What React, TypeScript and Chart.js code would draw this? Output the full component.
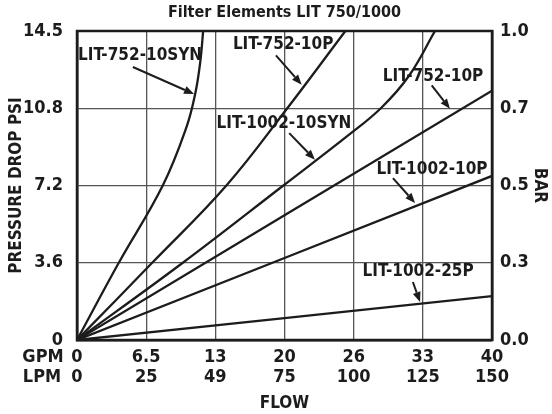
import React, { useEffect, useRef } from "react";
import { Chart, registerables } from "chart.js";

Chart.register(...registerables);

// ---- data ----
const LPM_TICKS = [0, 25, 50, 75, 100, 125, 150];
const GPM_LABELS = ["0", "6.5", "13", "20", "26", "33", "40"];
const LPM_LABELS = ["0", "25", "49", "75", "100", "125", "150"];
const PSI_TICKS = [0, 3.625, 7.25, 10.875, 14.5];
const PSI_LABELS = ["0", "3.6", "7.2", "10.8", "14.5"];
const BAR_LABELS = ["0.0", "0.3", "0.5", "0.7", "1.0"];

const SERIES_NAMES = [
  "LIT-752-10SYN",
  "LIT-752-10P (curve)",
  "LIT-1002-10SYN",
  "LIT-752-10P",
  "LIT-1002-10P",
  "LIT-1002-25P",
];
const S752_10SYN_X = [0, 15, 31, 39.6, 42.8, 44.6, 45.6];
const S752_10SYN_Y = [0, 3.6, 7.25, 10, 11.6, 13.1, 14.5];
const S752_10P_CURVE_X = [0, 27, 54, 76, 97];
const S752_10P_CURVE_Y = [0, 3.6, 7.25, 10.875, 14.5];
const S1002_10SYN_X = [0, 38, 74.6, 98, 110, 120, 129.4];
const S1002_10SYN_Y = [0, 3.6, 7.25, 9.6, 10.9, 12.4, 14.5];
const S752_10P_X = [0, 150];
const S752_10P_Y = [0, 11.7];
const S1002_10P_X = [0, 150];
const S1002_10P_Y = [0, 7.7];
const S1002_25P_X = [0, 150];
const S1002_25P_Y = [0, 2.06];

// annotation labels: text, label position (LPM, PSI), arrow from, arrow to
const ANNOT_TEXT = ["LIT-752-10SYN", "LIT-752-10P", "LIT-1002-10SYN", "LIT-752-10P", "LIT-1002-10P", "LIT-1002-25P"];
const ANNOT_LABEL_X = [22.8, 74.5, 74.8, 128.7, 128.3, 123.3];
const ANNOT_LABEL_Y = [13.37, 13.84, 10.14, 12.34, 7.98, 3.19];
const ANNOT_FROM_X = [20.2, 71.9, 76.7, 128.2, 114.2, 121.4];
const ANNOT_FROM_Y = [12.81, 13.36, 9.71, 11.95, 7.6, 2.72];
const ANNOT_TO_X = [42.3, 81.2, 86.0, 134.8, 122.2, 124.0];
const ANNOT_TO_Y = [11.54, 11.98, 8.46, 10.85, 6.43, 1.78];

const TITLE = "Filter Elements LIT 750/1000";

const FONT = "'Liberation Sans Narrow', 'DejaVu Sans Condensed', 'Roboto Condensed', 'Liberation Sans', sans-serif";
const INK = "#1c1c1c";

function pts(xs: number[], ys: number[]) {
  return xs.map((x, i) => ({ x, y: ys[i] }));
}

const overlayPlugin = {
  id: "overlay",
  afterDatasetsDraw(chart: any) {
    const ctx = chart.ctx;
    const xs = chart.scales.x;
    const ys = chart.scales.y;
    const ca = chart.chartArea;
    ctx.save();
    // frame
    ctx.strokeStyle = INK;
    ctx.lineWidth = 2.5;
    ctx.strokeRect(ca.left, ca.top, ca.right - ca.left, ca.bottom - ca.top);
    // annotations
    ctx.fillStyle = INK;
    ctx.font = `bold 17px ${FONT}`;
    ctx.textAlign = "center";
    ctx.textBaseline = "middle";
    ANNOT_TEXT.forEach((t, i) => {
      const lx = xs.getPixelForValue(ANNOT_LABEL_X[i]);
      const ly = ys.getPixelForValue(ANNOT_LABEL_Y[i]);
      ctx.fillText(t, lx, ly);
      const x1 = xs.getPixelForValue(ANNOT_FROM_X[i]);
      const y1 = ys.getPixelForValue(ANNOT_FROM_Y[i]);
      const x2 = xs.getPixelForValue(ANNOT_TO_X[i]);
      const y2 = ys.getPixelForValue(ANNOT_TO_Y[i]);
      const ang = Math.atan2(y2 - y1, x2 - x1);
      const hl = 10;
      const hw = 4;
      const bx = x2 - hl * Math.cos(ang);
      const by = y2 - hl * Math.sin(ang);
      ctx.strokeStyle = INK;
      ctx.lineWidth = 2;
      ctx.beginPath();
      ctx.moveTo(x1, y1);
      ctx.lineTo(bx, by);
      ctx.stroke();
      ctx.beginPath();
      ctx.moveTo(x2, y2);
      ctx.lineTo(bx + hw * Math.sin(ang), by - hw * Math.cos(ang));
      ctx.lineTo(bx - hw * Math.sin(ang), by + hw * Math.cos(ang));
      ctx.closePath();
      ctx.fill();
    });
    // title
    ctx.font = `bold 16px ${FONT}`;
    ctx.fillText(TITLE, (ca.left + ca.right) / 2, 13);
    // GPM / LPM row labels
    ctx.font = `bold 18px ${FONT}`;
    ctx.fillText("GPM", 43, ca.bottom + 17);
    ctx.fillText("LPM", 42, ca.bottom + 37);
    ctx.restore();
  },
};

export default function App() {
  const ref = useRef<HTMLCanvasElement>(null);
  useEffect(() => {
    if (!ref.current) return;
    const sets = [
      [S752_10SYN_X, S752_10SYN_Y],
      [S752_10P_CURVE_X, S752_10P_CURVE_Y],
      [S1002_10SYN_X, S1002_10SYN_Y],
      [S752_10P_X, S752_10P_Y],
      [S1002_10P_X, S1002_10P_Y],
      [S1002_25P_X, S1002_25P_Y],
    ];
    const tickFont = { family: FONT, size: 18, weight: "bold" as const, lineHeight: 1.11 };
    const chart = new Chart(ref.current, {
      type: "line",
      data: {
        datasets: sets.map((s, i) => ({
          label: SERIES_NAMES[i],
          data: pts(s[0], s[1]),
          borderColor: INK,
          borderWidth: 2.3,
          pointRadius: 0,
          fill: false,
          tension: 0.4,
        })),
      },
      options: {
        responsive: false,
        animation: false,
        events: [],
        layout: { padding: { top: 31, left: 0, right: 0, bottom: 0 } },
        plugins: { legend: { display: false }, tooltip: { enabled: false }, title: { display: false } },
        scales: {
          x: {
            type: "linear",
            position: "bottom",
            min: 0,
            max: 150,
            afterBuildTicks: (s: any) => {
              s.ticks = LPM_TICKS.map((v) => ({ value: v }));
            },
            afterFit: (s: any) => {
              s.height = 74;
            },
            ticks: {
              autoSkip: false,
              maxRotation: 0,
              padding: 7,
              color: INK,
              font: tickFont,
              callback: (v: any) => {
                const i = LPM_TICKS.indexOf(Number(v));
                return [GPM_LABELS[i], LPM_LABELS[i]];
              },
            },
            grid: { color: "#555", lineWidth: 1.3, drawTicks: false },
            border: { display: true, color: INK, width: 2.5 },
            title: {
              display: true,
              text: "FLOW",
              color: INK,
              font: { family: FONT, size: 17, weight: "bold" },
              padding: { top: 0, bottom: 0 },
            },
          },
          y: {
            type: "linear",
            position: "left",
            min: 0,
            max: 14.5,
            afterBuildTicks: (s: any) => {
              s.ticks = PSI_TICKS.map((v) => ({ value: v }));
            },
            afterFit: (s: any) => {
              s.width = 77;
            },
            ticks: {
              padding: 14,
              color: INK,
              font: { family: FONT, size: 18, weight: "bold" },
              callback: (v: any) => PSI_LABELS[PSI_TICKS.indexOf(Number(v))],
            },
            grid: { color: "#555", lineWidth: 1.3, drawTicks: false },
            border: { display: true, color: INK, width: 2.5 },
            title: {
              display: true,
              text: "PRESSURE DROP PSI",
              color: INK,
              font: { family: FONT, size: 17, weight: "bold" },
              padding: { top: 6, bottom: 0 },
            },
          },
          y2: {
            type: "linear",
            position: "right",
            min: 0,
            max: 14.5,
            afterBuildTicks: (s: any) => {
              s.ticks = PSI_TICKS.map((v) => ({ value: v }));
            },
            afterFit: (s: any) => {
              s.width = 60;
            },
            ticks: {
              padding: 8,
              color: INK,
              font: { family: FONT, size: 18, weight: "bold" },
              callback: (v: any) => BAR_LABELS[PSI_TICKS.indexOf(Number(v))],
            },
            grid: { display: false, drawTicks: false },
            border: { display: true, color: INK, width: 2.5 },
            title: {
              display: true,
              text: "BAR",
              color: INK,
              font: { family: FONT, size: 17, weight: "bold" },
              padding: { top: 2, bottom: 0 },
            },
          },
        },
      },
      plugins: [overlayPlugin],
    });
    return () => chart.destroy();
  }, []);
  return (
    <div style={{ position: "fixed", left: 0, top: 0, width: 552, height: 414, background: "#fff" }}>
      <canvas ref={ref} width={552} height={414} style={{ display: "block" }} />
    </div>
  );
}
